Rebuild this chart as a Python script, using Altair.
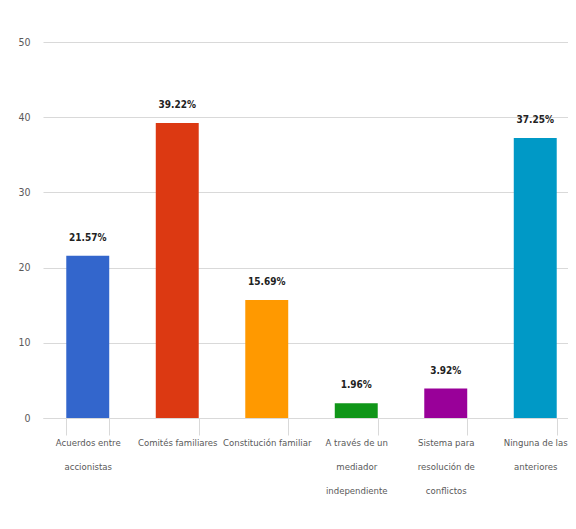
import altair as alt
import pandas as pd

categories = [
    "Acuerdos entre\naccionistas",
    "Comités familiares",
    "Constitución familiar",
    "A través de un\nmediador\nindependiente",
    "Sistema para\nresolución de\nconflictos",
    "Ninguna de las\nanteriores",
]
values = [21.57, 39.22, 15.69, 1.96, 3.92, 37.25]
colors = ["#3366cc", "#dc3912", "#ff9900", "#109618", "#990099", "#0099c6"]

df = pd.DataFrame({"cat": categories, "value": values, "color": colors})

FONT = "'DejaVu Sans Condensed', 'Liberation Sans Narrow', Roboto, sans-serif"

x = alt.X(
    "cat:N",
    sort=categories,
    title=None,
    scale=alt.Scale(range=[0, 537], paddingInner=0.52, paddingOuter=0.26),
    axis=alt.Axis(
        labelAngle=0,
        labelExpr="datum.value ? split(datum.value, '\\n') : ''",
        labelFont=FONT,
        labelFontSize=9.5,
        labelColor="#595959",
        labelLineHeight=24,
        labelPadding=2,
        labelBaseline="top",
        domainColor="#d9d9d9",
        tickColor="#d9d9d9",
        tickSize=17,
        tickBand="extent",
        grid=False,
    ),
)

base = alt.Chart(df).encode(x=x)

bars = base.mark_bar().encode(
    y=alt.Y(
        "value:Q",
        title=None,
        scale=alt.Scale(domain=[0, 50]),
        axis=alt.Axis(
            values=[0, 10, 20, 30, 40, 50],
            labelFont=FONT,
            labelFontSize=10.5,
            labelColor="#595959",
            labelPadding=13,
            domain=False,
            ticks=False,
            gridColor="#d9d9d9",
            gridWidth=1,
        ),
    ),
    color=alt.Color("color:N", scale=None),
)

text = base.transform_calculate(
    label="format(datum.value, '.2f') + '%'"
).mark_text(
    font=FONT, fontSize=10, fontWeight="bold", color="#222222", baseline="bottom", dy=-13
).encode(
    y="value:Q",
    text="label:N",
)

chart = (
    alt.layer(bars, text)
    .properties(
        width=525,
        height=376,
        autosize=alt.AutoSizeParams(type="none"),
        padding={"left": 35, "top": 34, "right": 0, "bottom": 100},
        background="white",
    )
    .configure_view(stroke=None)
)

chart.save("out.html", embed_options={"renderer": "svg", "actions": False})
